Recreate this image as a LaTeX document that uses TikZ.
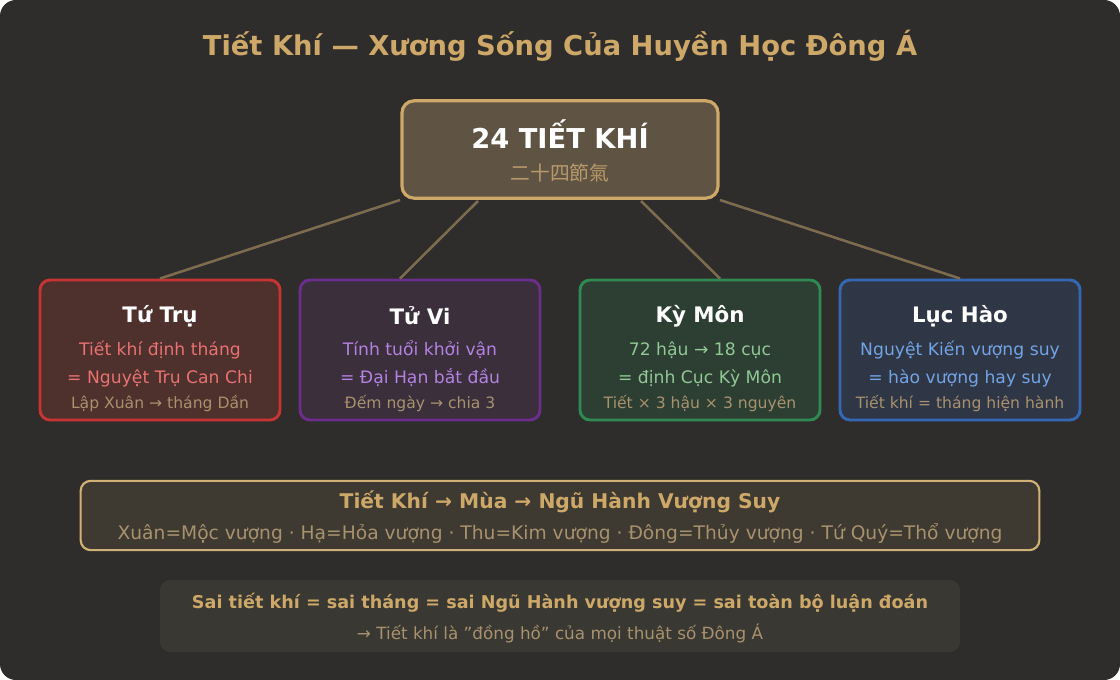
\documentclass[tikz,border=0pt]{standalone}
\usepackage{fontspec}
\setmainfont{DejaVu Sans}
\newfontfamily\cjk{Noto Sans CJK TC}
\newcommand{\ra}{→}
\definecolor{bg}{HTML}{2E2D2B}
\definecolor{gold}{HTML}{CDA868}
\definecolor{tan}{HTML}{A8926E}
\definecolor{cjkc}{HTML}{B8996A}
\definecolor{linec}{HTML}{7E6C50}
\definecolor{topfill}{HTML}{5F5443}
\definecolor{redb}{HTML}{C83434}\definecolor{redf}{HTML}{4E302D}\definecolor{redt}{HTML}{E87272}
\definecolor{purb}{HTML}{6C2E8C}\definecolor{purf}{HTML}{3A2F3B}\definecolor{purt}{HTML}{B482E0}
\definecolor{grnb}{HTML}{2E8A52}\definecolor{grnf}{HTML}{2D3F33}\definecolor{grnt}{HTML}{92C896}
\definecolor{blub}{HTML}{3468B4}\definecolor{bluf}{HTML}{2F3646}\definecolor{blut}{HTML}{72A4E4}
\definecolor{widef}{HTML}{3E3A32}
\definecolor{botf}{HTML}{3A3833}
\tikzset{
  card/.style={rounded corners=7.5pt, line width=2.2pt, minimum width=180pt, minimum height=105pt},
  conn/.style={draw=linec, line width=1.9pt},
  ctitle/.style={font=\bfseries\fontsize{16}{20}\selectfont, text=white},
  cline/.style={font=\fontsize{12.9}{15}\selectfont},
  csmall/.style={font=\fontsize{11.7}{13}\selectfont, text=tan},
}
\begin{document}
\begin{tikzpicture}[x=0.75pt,y=-0.75pt]
\useasboundingbox (0,0) rectangle (1120,680);
\fill[bg, rounded corners=12pt] (0,0) rectangle (1120,680);
\node[font=\bfseries\fontsize{20.5}{24}\selectfont, text=gold] (title) at (560,46) {Tiết Khí — Xương Sống Của Huyền Học Đông Á};
% top box
\node[draw=gold, fill=topfill, line width=2.4pt, rounded corners=9pt, minimum width=237pt, minimum height=73pt] (top) at (560,149.5) {};
\node[font=\bfseries\fontsize{20.5}{24}\selectfont, text=white] (toptxt) at (560,134) {24 TIẾT KHÍ};
\node[font=\cjk\fontsize{14.8}{17}\selectfont, text=cjkc] (topcjk) at (560,173) {二十四節氣};
% cards
\node[card, draw=redb, fill=redf] (c1) at (160,350) {};
\node[card, draw=purb, fill=purf] (c2) at (420,350) {};
\node[card, draw=grnb, fill=grnf] (c3) at (700,350) {};
\node[card, draw=blub, fill=bluf] (c4) at (960,350) {};
% connectors
\coordinate (t1) at (400,200); \coordinate (t2) at (478,201);
\coordinate (t3) at (641,201); \coordinate (t4) at (720,200);
\draw[conn] (t1) -- (c1.north);
\draw[conn] (t2) -- ([xshift=-15pt]c2.north);
\draw[conn] (t3) -- ([xshift=15pt]c3.north);
\draw[conn] (t4) -- (c4.north);
% card texts
\node[ctitle] (c1a) at (160,316) {Tứ Trụ};
\node[cline, text=redt] (c1b) at (160,350) {Tiết khí định tháng};
\node[cline, text=redt] (c1c) at (160,378) {= Nguyệt Trụ Can Chi};
\node[csmall] (c1d) at (160,404) {Lập Xuân \ra{} tháng Dần};
\node[ctitle] (c2a) at (420,316) {Tử Vi};
\node[cline, text=purt] (c2b) at (420,350) {Tính tuổi khởi vận};
\node[cline, text=purt] (c2c) at (420,378) {= Đại Hạn bắt đầu};
\node[csmall] (c2d) at (420,404) {Đếm ngày \ra{} chia 3};
\node[ctitle] (c3a) at (700,316) {Kỳ Môn};
\node[cline, text=grnt] (c3b) at (700,350) {72 hậu \ra{} 18 cục};
\node[cline, text=grnt] (c3c) at (700,378) {= định Cục Kỳ Môn};
\node[csmall] (c3d) at (700,404) {Tiết × 3 hậu × 3 nguyên};
\node[ctitle] (c4a) at (960,316) {Lục Hào};
\node[cline, text=blut] (c4b) at (960,350) {Nguyệt Kiến vượng suy};
\node[cline, text=blut] (c4c) at (960,378) {= hào vượng hay suy};
\node[csmall] (c4d) at (960,404) {Tiết khí = tháng hiện hành};
% wide box
\node[draw=gold!90!white, fill=widef, line width=1.6pt, rounded corners=7.5pt, minimum width=719pt, minimum height=52pt] (wide) at (560,515.5) {};
\node[font=\bfseries\fontsize{15.2}{18}\selectfont, text=gold] (w1) at (560,502) {Tiết Khí \ra{} Mùa \ra{} Ngũ Hành Vượng Suy};
\node[font=\fontsize{14}{17}\selectfont, text=tan] (w2) at (560,533) {Xuân=Mộc vượng · Hạ=Hỏa vượng · Thu=Kim vượng · Đông=Thủy vượng · Tứ Quý=Thổ vượng};
% bottom box
\node[fill=botf, rounded corners=7.5pt, minimum width=600pt, minimum height=54pt] (bot) at (560,616) {};
\node[font=\bfseries\fontsize{13.2}{17}\selectfont, text=gold] (b1) at (560,603) {Sai tiết khí = sai tháng = sai Ngũ Hành vượng suy = sai toàn bộ luận đoán};
\node[font=\fontsize{12.6}{15}\selectfont, text=tan] (b2) at (560,633) {\ra{} Tiết khí là "đồng hồ" của mọi thuật số Đông Á};
\end{tikzpicture}
\end{document}
